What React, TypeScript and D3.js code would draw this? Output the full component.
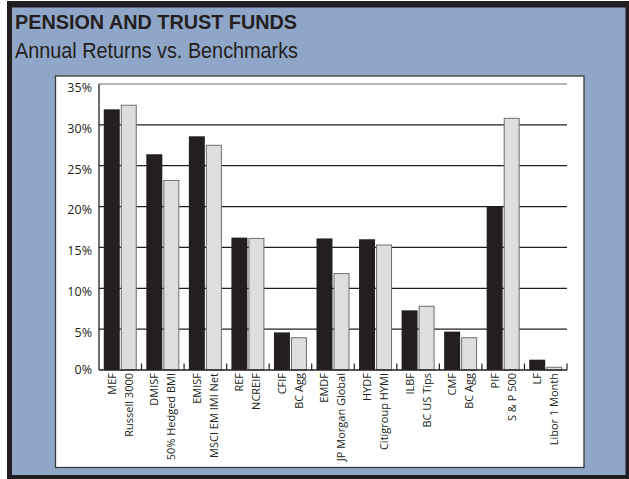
import React from "react";
import * as d3 from "d3";

const funds = ["MEF", "DMISF", "EMISF", "REF", "CFIF", "EMDF", "HYDF", "ILBF", "CMF", "PIF", "LF"];
const benchmarks = [
  "Russell 3000",
  "50% Hedged BMI",
  "MSCI EM IMI Net",
  "NCREIF",
  "BC Agg",
  "JP Morgan Global",
  "Citigroup HYMI",
  "BC US Tips",
  "BC Agg",
  "S & P 500",
  "Libor 1 Month",
];
const fundReturns = [31.9, 26.4, 28.6, 16.2, 4.6, 16.1, 16.0, 7.3, 4.7, 20.0, 1.26];
const benchmarkReturns = [32.4, 23.2, 27.5, 16.1, 3.95, 11.8, 15.3, 7.8, 3.95, 30.8, 0.33];
const yTicks = [0, 5, 10, 15, 20, 25, 30, 35];
const seriesKeys = ["fund", "bench"];

const title = "PENSION AND TRUST FUNDS";
const subtitle = "Annual Returns vs. Benchmarks";

export default function App() {
  const W = 629;
  const H = 479;
  const left = 99;
  const right = 567;
  const top = 84;
  const bottom = 370;

  const y = d3.scaleLinear().domain([0, 35]).range([bottom, top]);
  const x0 = d3
    .scaleBand<number>()
    .domain(d3.range(funds.length))
    .range([left, right])
    .paddingInner(0.2245)
    .paddingOuter(0.11225);
  const x1 = d3.scaleBand<string>().domain(seriesKeys).range([0, x0.bandwidth()]).paddingInner(0.06);

  const step = x0.step();
  const boundaries = d3.range(1, funds.length + 1).map((i) => left + i * step);

  const dark = "#231f20";
  const light = "#dcdee0";
  const blue = "#8fa6c8";

  const bars = funds.flatMap((f, i) => [
    { key: `f${i}`, label: f, value: fundReturns[i], s: "fund", i },
    { key: `b${i}`, label: benchmarks[i], value: benchmarkReturns[i], s: "bench", i },
  ]);

  return (
    <svg
      width={W}
      height={H}
      style={{ position: "absolute", left: 0, top: 0 }}
      xmlns="http://www.w3.org/2000/svg"
    >
      <rect x={0} y={0} width={W} height={H} fill="#ffffff" />
      <rect x={7} y={1} width={W - 7} height={H - 1} fill={dark} />
      <rect x={12} y={7.5} width={613.5} height={467.5} fill={blue} />
      <text
        x={15}
        y={28.5}
        fontFamily="Liberation Sans, Arial, sans-serif"
        fontWeight="bold"
        fontSize={21}
        fill={dark}
        textLength={282}
        lengthAdjust="spacingAndGlyphs"
      >
        {title}
      </text>
      <text
        x={15}
        y={58}
        fontFamily="Liberation Sans, Arial, sans-serif"
        fontSize={21.5}
        fill={dark}
        textLength={283}
        lengthAdjust="spacingAndGlyphs"
      >
        {subtitle}
      </text>

      <rect x={55.5} y={76} width={528.5} height={391.5} fill="#ffffff" stroke="#3a3a3a" strokeWidth={1.3} />

      {yTicks
        .filter((t) => t > 0)
        .map((t) => (
          <line
            key={`g${t}`}
            x1={left}
            x2={right}
            y1={y(t)}
            y2={y(t)}
            stroke={t === 35 ? "#6d6e71" : dark}
            strokeWidth={1.2}
          />
        ))}

      {bars.map((b) => {
        const bx = (x0(b.i) as number) + (x1(b.s) as number);
        const bw = x1.bandwidth();
        const isFund = b.s === "fund";
        return (
          <rect
            key={b.key}
            x={isFund ? bx : bx + 0.5}
            y={y(b.value)}
            width={isFund ? bw : bw - 1}
            height={bottom - y(b.value)}
            fill={isFund ? dark : light}
            stroke={isFund ? "none" : "#6d6e71"}
            strokeWidth={1}
          />
        );
      })}

      <line x1={left} x2={left} y1={top} y2={bottom} stroke={dark} strokeWidth={1.3} />
      <line x1={left} x2={right} y1={bottom} y2={bottom} stroke={dark} strokeWidth={1.5} />
      {boundaries.map((bx, i) => (
        <line key={`t${i}`} x1={bx} x2={bx} y1={bottom} y2={bottom - 6.5} stroke={dark} strokeWidth={1.2} />
      ))}

      {yTicks.map((t) => (
        <text
          key={`yl${t}`}
          x={92}
          y={y(t) + (t === 0 ? 3.5 : 7.8)}
          textAnchor="end"
          fontFamily="Open Sans, DejaVu Sans, sans-serif"
          fontSize={12.5}
          fill={dark}
        >
          {`${t}%`}
        </text>
      ))}

      {bars.map((b) => {
        const cx = (x0(b.i) as number) + (x1(b.s) as number) + x1.bandwidth() / 2;
        return (
          <text
            key={`xl${b.key}`}
            transform={`translate(${cx},${bottom + 3}) rotate(-90)`}
            textAnchor="end"
            dy="0.36em"
            fontFamily="Open Sans, sans-serif"
            fontSize={11}
            fill={dark}
          >
            {b.label}
          </text>
        );
      })}
    </svg>
  );
}
